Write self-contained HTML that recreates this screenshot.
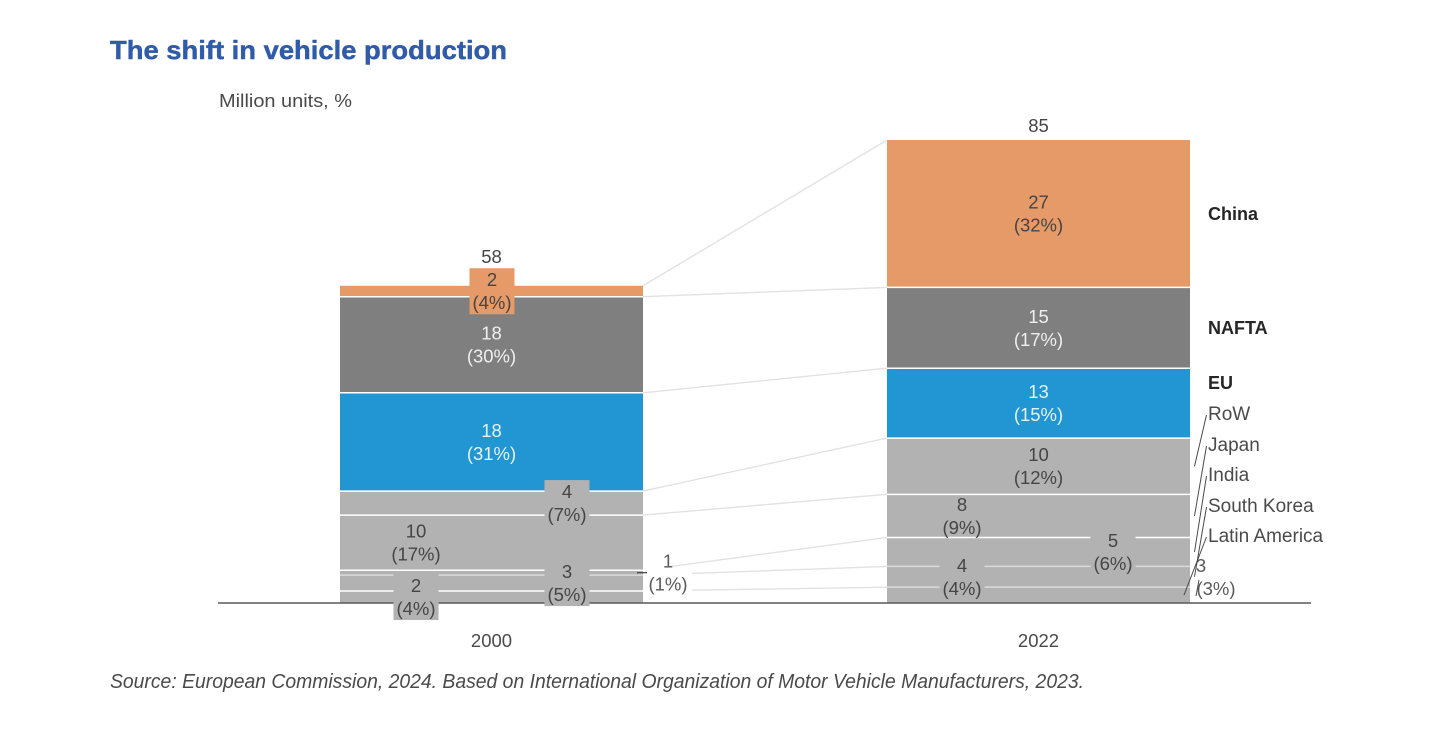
<!DOCTYPE html>
<html lang="en">
<head>
<meta charset="utf-8">
<title>The shift in vehicle production</title>
<style>
  html, body { margin: 0; padding: 0; background: #fff; width: 1456px; height: 754px; overflow: hidden; }
  svg { display: block; filter: blur(0.35px); font-family: "Liberation Sans", sans-serif; }
</style>
</head>
<body>
<svg id="chart" xmlns="http://www.w3.org/2000/svg" width="1456" height="754" viewBox="0 0 1456 754">
  <rect x="0" y="0" width="1456" height="754" fill="#ffffff"/>
  <text x="110" y="59" font-size="26" font-weight="700" fill="#2F5BA8" stroke="#2F5BA8" stroke-width="0.45" textLength="397" lengthAdjust="spacingAndGlyphs">The shift in vehicle production</text>
  <text x="219" y="107" font-size="18" fill="#4A4A4A" textLength="133" lengthAdjust="spacingAndGlyphs">Million units, %</text>
  <text x="110" y="688" font-size="20" font-style="italic" fill="#4A4A4A" textLength="974" lengthAdjust="spacingAndGlyphs">Source: European Commission, 2024. Based on International Organization of Motor Vehicle Manufacturers, 2023.</text>
  <g id="connectors"></g>
  <g id="bars"></g>
  <line x1="218" y1="603" x2="1311" y2="603" stroke="#595959" stroke-width="1.6"/>
  <g id="boxes"></g>
  <g id="labels"></g>
  <g id="legend"></g>
</svg>
<script>
// ---- data (bottom of stack to top) ----
const regions = ["Latin America", "South Korea", "India", "Japan", "RoW", "EU", "NAFTA", "China"];
const years = ["2000", "2022"];
const production2000 = [2.2, 2.9, 0.9, 10.1, 4.4, 18, 17.6, 2];
const production2022 = [2.9, 3.8, 5.3, 7.9, 10.3, 12.8, 14.8, 27];
const shares2000 = [4, 5, 1, 17, 7, 31, 30, 4];
const shares2022 = [3, 4, 6, 9, 12, 15, 17, 32];

// ---- axis functions ----
const BASE_Y = 603, UNIT_PX = 5.46, BAR_W = 303;
const xBar = function (i) { return i === 0 ? 340 : 887; };
const yVal = function (v) { return BASE_Y - v * UNIT_PX; };

// ---- appearance (not data) ----
const segmentFill = { "China": "#E69A68", "NAFTA": "#7F7F7F", "EU": "#2196D3" };
const defaultFill = "#B2B2B2";
const labelFill = { "NAFTA": "#EFEFEF", "EU": "#E6F2FA" };
const regionLabelY = { "China": 214, "NAFTA": 328, "EU": 383, "RoW": 414, "Japan": 445, "India": 475, "South Korea": 506, "Latin America": 536 };
const softLines = { "2000|South Korea": true, "2022|South Korea": true, "2022|Latin America": true };
const placement = {
  "2000|China": { x: 492, box: true },
  "2000|RoW": { x: 567, box: true },
  "2000|Japan": { x: 416 },
  "2000|South Korea": { x: 567, box: true },
  "2000|Latin America": { x: 416, box: true },
  "2000|India": { x: 668, outside: true },
  "2022|Japan": { x: 962 },
  "2022|India": { x: 1113, box: true },
  "2022|South Korea": { x: 962, box: true },
  "2022|Latin America": { x: 1216, numberX: 1201, dy: -18, outside: true }
};

const NS = "http://www.w3.org/2000/svg";
const gConn = document.getElementById("connectors");
const gBars = document.getElementById("bars");
const gBoxes = document.getElementById("boxes");
const gLabels = document.getElementById("labels");
const gLegend = document.getElementById("legend");

function mk(tag, parent, props) {
  const el = document.createElementNS(NS, tag);
  Object.keys(props).forEach(function (k) { el.setAttribute(k, props[k]); });
  parent.appendChild(el);
  return el;
}
function slug(s) { return s.toLowerCase().replace(/\s+/g, "-"); }
function tops(vals) {
  const out = [];
  let sum = 0;
  vals.forEach(function (v) { const start = sum; sum += v; out.push({ start: start, end: sum }); });
  return out;
}

const series = [production2000, production2022];
const shares = [shares2000, shares2022];
const stacks = series.map(tops);

// connectors between the stacks
regions.forEach(function (r, k) {
  const line = mk("line", gConn, {
    x1: xBar(0) + BAR_W, y1: yVal(stacks[0][k].end),
    x2: xBar(1), y2: yVal(stacks[1][k].end),
    stroke: "#E2E2E2", "stroke-width": 1.4
  });
  
  
});

// white masks behind the outside label of India, 2000
const indiaMid = yVal((stacks[0][2].start + stacks[0][2].end) / 2);
const maskA = mk("rect", gConn, { x: xBar(0) + BAR_W, y: indiaMid - 24, width: 22, height: 24, fill: "#fff" });


const maskB = mk("rect", gConn, { x: xBar(0) + BAR_W, y: indiaMid - 2, width: 49, height: 30, fill: "#fff" });



// bars
years.forEach(function (year, i) {
  const x = xBar(i);
  regions.forEach(function (r, k) {
    const seg = stacks[i][k];
    const rect = mk("rect", gBars, {
      x: x, y: yVal(seg.end), width: BAR_W, height: yVal(seg.start) - yVal(seg.end),
      fill: segmentFill[r] || defaultFill
    });
    
    
  });
  regions.forEach(function (r, k) {
    if (k === regions.length - 1) return;
    const yy = yVal(stacks[i][k].end);
    const soft = softLines[year + "|" + r];
    const sep = mk("line", gBars, {
      x1: x, y1: yy, x2: x + BAR_W, y2: yy,
      stroke: soft ? "#DADADA" : "#FFFFFF", "stroke-width": 1.5
    });
    
    
  });
  // label boxes sit above the separators and the axis line
  regions.forEach(function (r, k) {
    const p = placement[year + "|" + r];
    if (!p || !p.box) return;
    const seg = stacks[i][k];
    const mid = yVal((seg.start + seg.end) / 2) + (p.dy || 0);
    const box = mk("rect", gBoxes, {
      x: p.x - 22.5, y: mid - 23, width: 45, height: 46,
      fill: segmentFill[r] || defaultFill
    });
    
    
  });
});

// value labels
years.forEach(function (year, i) {
  const x = xBar(i);
  const vals = series[i];
  regions.forEach(function (r, k) {
    const seg = stacks[i][k];
    const p = placement[year + "|" + r] || {};
    const cx = p.x || (x + BAR_W / 2);
    const mid = yVal((seg.start + seg.end) / 2) + (p.dy || 0);
    const fill = labelFill[r] || (p.outside ? "#5A5A5A" : "#454545");
    const t1 = mk("text", gLabels, { x: p.numberX || cx, y: mid - 5, "text-anchor": "middle", "font-size": 18.5, fill: fill });
    t1.textContent = String(Math.round(vals[k]));
    
    
    const t2 = mk("text", gLabels, { x: cx, y: mid + 18, "text-anchor": "middle", "font-size": 18.5, fill: fill });
    t2.textContent = "(" + shares[i][k] + "%)";
    
    
  });
  const total = vals.reduce(function (a, b) { return a + b; }, 0);
  const totalText = mk("text", gLabels, {
    x: x + BAR_W / 2,
    y: yVal(total) - (i === 0 ? 23 : 8),
    "text-anchor": "middle", "font-size": 18.5, fill: "#454545"
  });
  totalText.textContent = String(Math.round(total));
  
  
  const yearText = mk("text", gLabels, {
    x: x + BAR_W / 2, y: 647, "text-anchor": "middle", "font-size": 18.5, fill: "#4A4A4A"
  });
  yearText.textContent = year;
  
  
});

// dash next to the small India segment, 2000
const indiaTick = mk("line", gLabels, { x1: 637, y1: indiaMid, x2: 647, y2: indiaMid, stroke: "#404040", "stroke-width": 1.2 });



// region names and leader lines
regions.forEach(function (r, k) {
  const ly = regionLabelY[r];
  const strong = r === "China" || r === "NAFTA" || r === "EU";
  const name = mk("text", gLegend, {
    x: 1208, y: ly + 6, "font-size": strong ? 18 : 19,
    "font-weight": strong ? 700 : 400,
    fill: strong ? "#262626" : "#4A4A4A"
  });
  name.textContent = r;
  
  
  if (!strong) {
    const seg = stacks[1][k];
    const endY = yVal((seg.start + seg.end) / 2);
    const endX = r === "Latin America" ? 1184 : 1194.5;
    const leader = mk("line", gLegend, {
      x1: 1206.5, y1: ly + 1, x2: endX, y2: endY,
      stroke: "#4A4A4A", "stroke-width": 1
    });
    
    
  }
});
const latamLeader = mk("line", gLegend, { x1: 1199, y1: 580, x2: 1196, y2: 596, stroke: "#4A4A4A", "stroke-width": 1 });


</script>
</body>
</html>
